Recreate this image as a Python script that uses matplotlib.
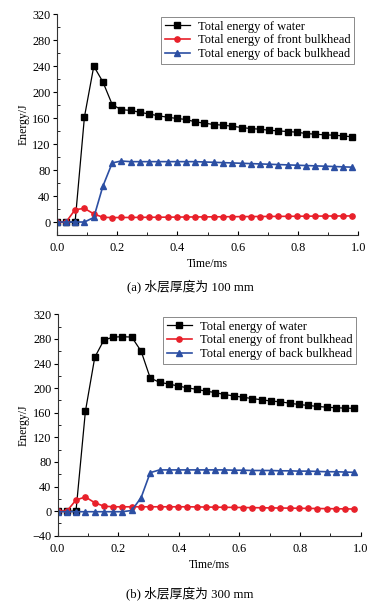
import matplotlib
matplotlib.use('Agg')
import matplotlib.pyplot as plt
from matplotlib.ticker import MultipleLocator

plt.rcParams['font.family'] = ['Liberation Serif', 'Noto Sans CJK SC']
plt.rcParams['axes.unicode_minus'] = True

# time axis (ms)
t = [0.000, 0.031, 0.061, 0.092, 0.123, 0.153, 0.184, 0.214, 0.245, 0.276, 0.306,
     0.337, 0.368, 0.398, 0.429, 0.459, 0.490, 0.521, 0.551, 0.582, 0.613, 0.643,
     0.674, 0.704, 0.735, 0.766, 0.796, 0.827, 0.858, 0.888, 0.919, 0.949, 0.980]

# (a) water layer 100 mm
water_a = [0, 0, 0, 162, 240, 216, 181, 173, 172, 169, 166.5,
           163.6, 161.5, 159.5, 158, 154.3, 152.3, 150.2, 149.2, 147.6, 145.6, 144,
           143, 141.4, 140.4, 139.4, 138.4, 136.3, 135.3, 134.3, 133.8, 132.7, 131.2]
front_a = [0, 0, 19, 21, 12.5, 7.3, 6.8, 7, 7, 7.2, 7.3,
           7.4, 7.5, 7.6, 7.7, 7.8, 7.9, 8, 8.1, 8.2, 8.3, 8.4,
           8.5, 8.6, 8.7, 8.8, 8.9, 9, 9.1, 9.2, 9.3, 9.3, 9.4]
back_a = [0, 0, 0, 0, 7, 55, 91, 94, 93, 93, 93,
          93, 93, 93, 93, 93, 92.5, 92, 91.5, 91, 90.5, 90,
          89.5, 89, 88.5, 88, 87.5, 87, 86.5, 86, 85.5, 85, 84.5]

# (b) water layer 300 mm
water_b = [0, 0, 0, 162, 250, 278, 283, 283.5, 283, 260, 216.4,
           209.4, 206.6, 203.4, 200.4, 198, 195, 192.7, 189.5, 187.3, 185, 183,
           181, 179, 177.7, 175.5, 173.4, 171.8, 170.2, 169, 168, 167.5, 167]
front_b = [0, 0, 18, 23, 13.6, 8, 7, 7, 7, 7, 7,
           7, 7, 7, 7, 6.8, 6.6, 6.4, 6.2, 6, 5.8, 5.6,
           5.4, 5.2, 5, 4.8, 4.6, 4.4, 4.2, 4, 3.8, 3.6, 3.4]
back_b = [-1, -1, -1, -1, -1, -1, -1, -1, 1, 22, 62.5,
          67, 67, 67, 67, 67, 67, 67, 67, 66.5, 66.5, 66,
          66, 66, 65.5, 65.5, 65, 65, 64.5, 64, 64, 63.5, 63]

labels = ['Total energy of water', 'Total energy of front bulkhead',
          'Total energy of back bulkhead']
captions = ['(a) 水层厚度为 100 mm', '(b) 水层厚度为 300 mm']

fig = plt.figure(figsize=(3.78, 6.05), dpi=100)
W, H = 378, 605

def make_ax(left, top, right, bottom):
    return fig.add_axes([left / W, 1 - bottom / H, (right - left) / W, (bottom - top) / H])

ax1 = make_ax(56.7, 14.3, 358.3, 235)
ax2 = make_ax(57.5, 314.3, 360.5, 535.7)

black = '#000000'
red = '#e8202a'
blue = '#2c4fa3'

for ax, w, f, b, ylim, cap, legy in [
        (ax1, water_a, front_a, back_a, (-20, 320), captions[0], 286.7),
        (ax2, water_b, front_b, back_b, (-40, 320), captions[1], 593)]:
    ax.plot(t, w, '-s', color=black, lw=0.9, ms=3.8, label=labels[0])
    ax.plot(t, f, '-o', color=red, lw=1.2, ms=3.8, label=labels[1])
    ax.plot(t, b, '-^', color=blue, lw=1.2, ms=4.2, label=labels[2])
    ax.set_xlim(0, 1.0)
    ax.set_ylim(*ylim)
    ax.xaxis.set_major_locator(MultipleLocator(0.2))
    ax.xaxis.set_minor_locator(MultipleLocator(0.1))
    ax.yaxis.set_major_locator(MultipleLocator(40))
    ax.yaxis.set_minor_locator(MultipleLocator(20))
    ax.xaxis.set_major_formatter(matplotlib.ticker.FormatStrFormatter('%.1f'))
    ax.spines['top'].set_visible(False)
    ax.spines['right'].set_visible(False)
    for s in ['left', 'bottom']:
        ax.spines[s].set_linewidth(0.8)
        ax.spines[s].set_color('#333333')
    ax.tick_params(axis='x', which='major', direction='in', length=3, labelsize=8.8, pad=5)
    ax.tick_params(axis='x', which='minor', direction='in', length=2)
    ax.tick_params(axis='y', which='major', direction='out', length=3, labelsize=8.8, pad=1.5)
    ax.tick_params(axis='y', which='minor', direction='in', length=2)
    ax.set_xlabel('Time/ms', fontsize=8.5, labelpad=3)
    ax.set_ylabel('Energy/J', fontsize=8.5, labelpad=2)
    leg = ax.legend(loc='upper right', bbox_to_anchor=(0.995, 1.0), fontsize=9,
                    frameon=True, fancybox=False, edgecolor='#555555',
                    handlelength=2.0, handletextpad=0.65, borderpad=0.3,
                    labelspacing=0.15, borderaxespad=0.2)
    leg.get_frame().set_linewidth(0.6)
    fig.text(190 / W, 1 - legy / H, cap, ha='center', va='center', fontsize=9.2)

fig.savefig('out.png', dpi=100)
